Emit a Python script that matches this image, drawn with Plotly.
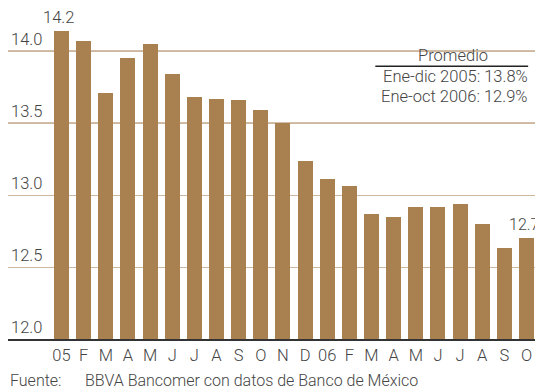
import plotly.graph_objects as go

months = ["05", "F", "M", "A", "M", "J", "J", "A", "S", "O", "N", "D",
          "06", "F", "M", "A", "M", "J", "J", "A", "S", "O"]
rates = [14.14, 14.07, 13.71, 13.95, 14.05, 13.84, 13.68, 13.67, 13.66, 13.59, 13.50, 13.24,
         13.11, 13.06, 12.87, 12.85, 12.92, 12.92, 12.94, 12.80, 12.63, 12.70]
ytick_vals = [12.0, 12.5, 13.0, 13.5, 14.0]
ytick_text = ["12.0", "12.5", "13.0", "13.5", "14.0"]
first_label = "14.2"
last_label = "12.7"
legend_title = "Promedio"
legend_lines = ["Ene-dic 2005: 13.8%", "Ene-oct 2006: 12.9%"]
source_label = "Fuente:"
source_text = "BBVA Bancomer con datos de Banco de México"

FONT = "Roboto"
TXT = "#444444"
BAR = "#A98050"
DARK_GRID = "#A67F55"
LIGHT_GRID = "#CDB79E"
FS = 16.5

x = list(range(len(months)))

def f(size=FS):
    return dict(family=FONT, size=size, color=TXT, weight=300)

fig = go.Figure()
fig.add_trace(go.Bar(x=x, y=rates, marker=dict(color=BAR, line=dict(width=0)),
                     width=0.68, hoverinfo="skip"))

# darker upper gridlines
for v in [13.5, 14.0]:
    fig.add_shape(type="line", xref="paper", yref="y", x0=0, x1=1, y0=v, y1=v,
                  line=dict(color=DARK_GRID, width=1.3), layer="below")

fig.add_annotation(x=x[0], y=rates[0], text=first_label, showarrow=False,
                   yanchor="bottom", yshift=2, xshift=-3, font=f())
fig.add_annotation(x=x[-1], y=rates[-1], text=last_label, showarrow=False,
                   yanchor="bottom", yshift=2, xanchor="left", xshift=-20, font=f(16))

# averages box
fig.add_annotation(xref="paper", yref="paper", x=0.844, y=0.858, text=legend_title,
                   showarrow=False, xanchor="center", yanchor="middle", font=f())
fig.add_shape(type="line", xref="paper", yref="paper", x0=0.697, x1=0.987, y0=0.824, y1=0.824,
              line=dict(color="#222222", width=1.3))
for i, t in enumerate(legend_lines):
    fig.add_annotation(xref="paper", yref="paper", x=0.99, y=0.792 - i * 0.058, text=t,
                       showarrow=False, xanchor="right", yanchor="middle", font=f())

fig.add_annotation(xref="paper", yref="paper", x=0.0, y=-0.124, text=source_label,
                   showarrow=False, xanchor="left", yanchor="middle", font=f(16))
fig.add_annotation(xref="paper", yref="paper", x=0.142, y=-0.124, text=source_text,
                   showarrow=False, xanchor="left", yanchor="middle", font=f(16))

fig.update_layout(
    width=535, height=389,
    margin=dict(l=8, r=0, t=8, b=50),
    paper_bgcolor="white", plot_bgcolor="white",
    showlegend=False, bargap=0,
    font=f(),
    xaxis=dict(range=[-2.416, 21.384], tickvals=x, ticktext=months, showgrid=False,
               zeroline=False, showline=True, linecolor="#333333", linewidth=1.5,
               ticks="", tickfont=f()),
    yaxis=dict(range=[12.0, 14.3], tickvals=ytick_vals, ticktext=ytick_text,
               ticklabelposition="inside top", showgrid=True, gridcolor=LIGHT_GRID,
               gridwidth=1.3, zeroline=False, showline=False, ticks="",
               tickfont=f()),
)

fig.write_html("out.html")
